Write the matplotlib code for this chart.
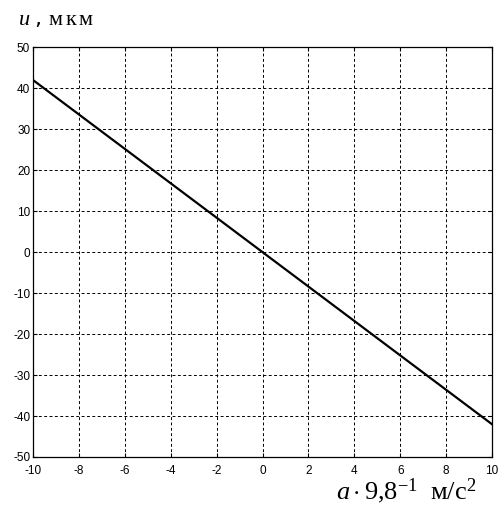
import matplotlib
matplotlib.use("Agg")
import matplotlib.pyplot as plt
from matplotlib import font_manager

# data
accel = [-10, 10]
displ = [42, -42]
xticks = [-10, -8, -6, -4, -2, 0, 2, 4, 6, 8, 10]
yticks = [-50, -40, -30, -20, -10, 0, 10, 20, 30, 40, 50]

names = {f.name for f in font_manager.fontManager.ttflist}
tick_font = "Liberation Sans Narrow" if "Liberation Sans Narrow" in names else "Liberation Sans"

plt.rcParams['mathtext.fontset'] = 'custom'
plt.rcParams['mathtext.rm'] = 'Liberation Serif'
plt.rcParams['mathtext.it'] = 'Liberation Serif:italic'

fig = plt.figure(figsize=(5, 5.08), dpi=100)
ax = fig.add_axes([0.066, 0.1004, 0.918, 0.8066])

ax.plot(accel, displ, color='black', lw=1.6)

ax.set_xlim(-10, 10)
ax.set_ylim(-50, 50)
ax.set_xticks(xticks)
ax.set_yticks(yticks)
ax.set_xticklabels([str(t) for t in xticks], fontfamily=tick_font, fontsize=8.5)
ax.set_yticklabels([str(t) for t in yticks], fontfamily=tick_font, fontsize=8.5)
ax.tick_params(direction='in', length=3, width=0.8, top=True, right=True)
ax.tick_params(axis='y', pad=2)
ax.tick_params(axis='x', pad=6)
ax.grid(True, color='black', linestyle=(0, (3, 2.5)), linewidth=0.7)
for s in ax.spines.values():
    s.set_linewidth(0.9)

fig.text(0.036, 0.951, r'$u\ $, $\mathrm{м\,к\,м}$', fontsize=16, ha='left', va='baseline')
fig.text(0.952, 0.017, r'$a \cdot 9{,}8^{-1}\ \ \mathrm{м}/\mathrm{с}^{2}$', fontsize=19,
         ha='right', va='baseline')

fig.savefig('out.png', dpi=100)
